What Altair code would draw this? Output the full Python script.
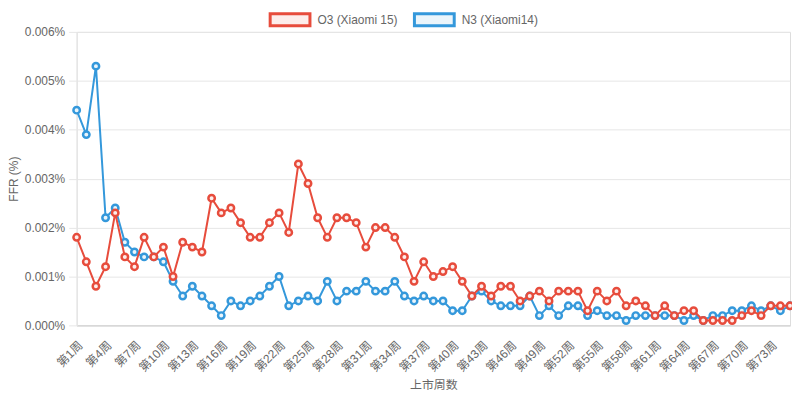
import altair as alt
import pandas as pd

weeks = [f"第{i}周" for i in range(1, 76)]
tick_labels = weeks[::3]

o3 = [0.0018, 0.0013, 0.0008, 0.0012, 0.0023, 0.0014, 0.0012, 0.0018, 0.0014, 0.0016,
      0.0010, 0.0017, 0.0016, 0.0015, 0.0026, 0.0023, 0.0024, 0.0021, 0.0018, 0.0018,
      0.0021, 0.0023, 0.0019, 0.0033, 0.0029, 0.0022, 0.0018, 0.0022, 0.0022, 0.0021,
      0.0016, 0.0020, 0.0020, 0.0018, 0.0014, 0.0009, 0.0013, 0.0010, 0.0011, 0.0012,
      0.0009, 0.0006, 0.0008, 0.0006, 0.0008, 0.0008, 0.0005, 0.0006, 0.0007, 0.0005,
      0.0007, 0.0007, 0.0007, 0.0003, 0.0007, 0.0005, 0.0007, 0.0004, 0.0005, 0.0004,
      0.0002, 0.0004, 0.0002, 0.0003, 0.0003, 0.0001, 0.0001, 0.0001, 0.0001, 0.0002,
      0.0003, 0.0002, 0.0004, 0.0004, 0.0004]

n3 = [0.0044, 0.0039, 0.0053, 0.0022, 0.0024, 0.0017, 0.0015, 0.0014, 0.0014, 0.0013,
      0.0009, 0.0006, 0.0008, 0.0006, 0.0004, 0.0002, 0.0005, 0.0004, 0.0005, 0.0006,
      0.0008, 0.0010, 0.0004, 0.0005, 0.0006, 0.0005, 0.0009, 0.0005, 0.0007, 0.0007,
      0.0009, 0.0007, 0.0007, 0.0009, 0.0006, 0.0005, 0.0006, 0.0005, 0.0005, 0.0003,
      0.0003, 0.0006, 0.0007, 0.0005, 0.0004, 0.0004, 0.0004, 0.0006, 0.0002, 0.0004,
      0.0002, 0.0004, 0.0004, 0.0002, 0.0003, 0.0002, 0.0002, 0.0001, 0.0002, 0.0002,
      0.0002, 0.0002, 0.0002, 0.0001, 0.0002, 0.0001, 0.0002, 0.0002, 0.0003, 0.0003,
      0.0004, 0.0003, 0.0004, 0.0003, 0.0004]

series_names = ["O3 (Xiaomi 15)", "N3 (Xiaomi14)"]
stroke_colors = ["#e74c3c", "#3498db"]
fill_colors = ["#fdedeb", "#ebf5fb"]

rows = []
for name, vals in zip(series_names, [o3, n3]):
    for w, v in zip(weeks, vals):
        rows.append({"week": w, "ffr": v, "series": name})
df = pd.DataFrame(rows)

FONT = "Liberation Sans, Arial, Noto Sans CJK SC, sans-serif"

x = alt.X("week:N", sort=weeks, scale=alt.Scale(type="point", padding=0),
          axis=alt.Axis(values=tick_labels, labelAngle=-45, labelAlign="right",
                        labelBaseline="top", ticks=False, grid=False,
                        domainColor="#cfcfcf", labelPadding=14, labelColor="#666",
                        labelFontSize=12, labelFont=FONT, title="上市周数",
                        titleFont=FONT, titleFontSize=12, titleColor="#666",
                        titleFontWeight="normal", titleY=59, titleBaseline="middle"))
y = alt.Y("ffr:Q", scale=alt.Scale(domain=[0, 0.006], nice=False),
          axis=alt.Axis(values=[0, 0.001, 0.002, 0.003, 0.004, 0.005, 0.006],
                        labelExpr="format(datum.value, '.3f') + '%'",
                        tickSize=8, tickColor="#e6e6e6", domainColor="#e6e6e6",
                        gridColor="#e6e6e6", labelPadding=4, labelColor="#666",
                        labelFontSize=12, labelFont=FONT, title="FFR (%)",
                        titleFont=FONT, titleFontSize=12, titleColor="#666",
                        titleFontWeight="normal", titlePadding=4))

legend_opts = dict(title=None, orient="none", direction="horizontal",
                   legendX=193, legendY=-34,
                   symbolType="M-1,-0.3H1V0.3H-1Z", symbolSize=1600,
                   symbolStrokeWidth=3, labelFont=FONT,
                   labelFontSize=12, labelColor="#666",
                   labelOffset=6, columnPadding=10, padding=0)

stroke = alt.Stroke("series:N", scale=alt.Scale(domain=series_names, range=stroke_colors),
                    legend=alt.Legend(**legend_opts))
fill = alt.Fill("series:N", scale=alt.Scale(domain=series_names, range=fill_colors),
                legend=alt.Legend(**legend_opts))

def series_layer(name):
    base = alt.Chart(df).transform_filter(alt.datum.series == name)
    line = base.mark_line(strokeWidth=2).encode(x=x, y=y, stroke=stroke)
    pts = base.mark_point(filled=False, size=42, strokeWidth=2.5, opacity=1).encode(
        x=x, y=y, stroke=stroke, fill=fill)
    return line + pts

chart = alt.layer(series_layer(series_names[1]), series_layer(series_names[0])).properties(
    width=717, height=295,
    autosize=alt.AutoSizeParams(type="none"),
    padding={"left": 69, "top": 23, "right": 2, "bottom": 76},
).configure_view(stroke=None).configure(background="white")

chart.save("out.html", embed_options={"renderer": "svg", "actions": False})
